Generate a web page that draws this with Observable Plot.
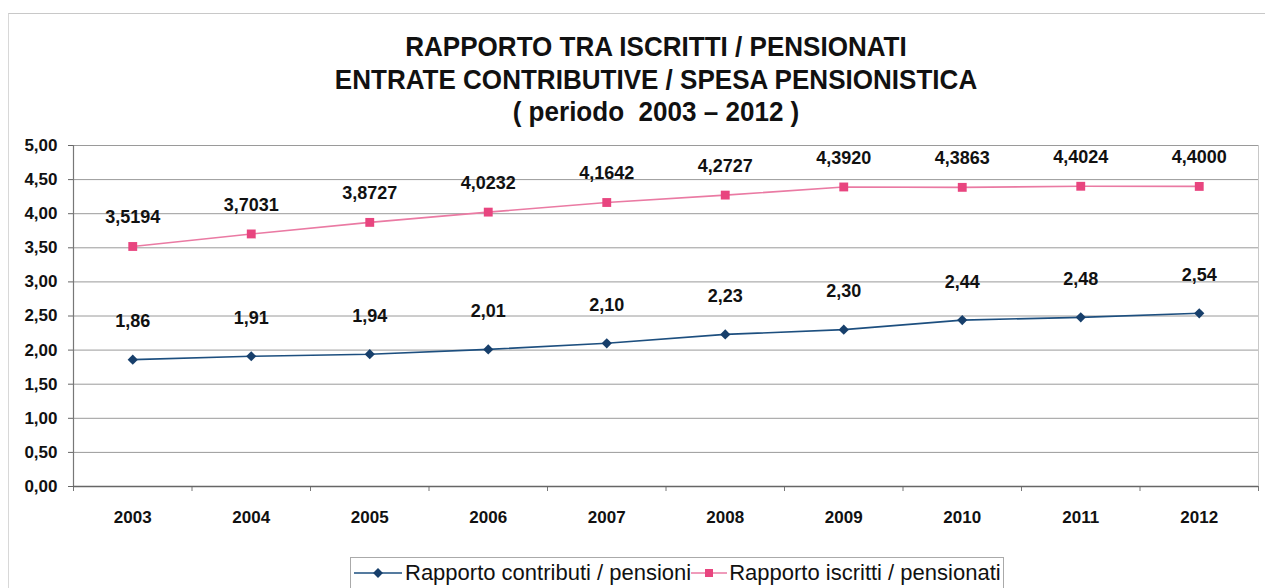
<!DOCTYPE html>
<html><head><meta charset="utf-8">
<script src="https://cdn.jsdelivr.net/npm/d3@7"></script>
<script src="https://cdn.jsdelivr.net/npm/@observablehq/plot@0.6"></script>
<style>
body{margin:0;background:#fff;}
#wrap{position:relative;width:1265px;height:588px;overflow:hidden;font-family:"Liberation Sans",Arial,sans-serif;background:#fff;}
#frame{position:absolute;left:8px;top:13px;width:1300px;height:620px;border-top:1px solid #c8c8c8;border-left:1px solid #d8d8d8;}
#title{position:absolute;left:156px;width:1000px;top:31px;text-align:center;font-family:"Liberation Sans",Arial,sans-serif;font-weight:bold;font-size:28px;line-height:32.5px;color:#111;transform:scaleX(0.93);transform-origin:500px 0;}
#chart{position:absolute;left:0;top:130px;}
#legend{position:absolute;left:350px;top:557px;width:654px;height:50px;border:1px solid #aaa;box-sizing:border-box;}
#legend .row{position:absolute;left:3px;top:2px;display:flex;align-items:center;font-size:22px;color:#111;white-space:nowrap;}
#legend svg{display:block;}
</style></head>
<body>
<div id="wrap">
  <div id="frame"></div>
  <div id="title">RAPPORTO TRA ISCRITTI / PENSIONATI<br>ENTRATE CONTRIBUTIVE / SPESA PENSIONISTICA<br>( periodo&nbsp; 2003 – 2012 )</div>
  <div id="chart"></div>
  <div id="legend"><div class="row" id="legrow"></div></div>
</div>
<script>
const years = [2003, 2004, 2005, 2006, 2007, 2008, 2009, 2010, 2011, 2012];
const contributiPensioni = [1.86, 1.91, 1.94, 2.01, 2.10, 2.23, 2.30, 2.44, 2.48, 2.54];
const iscrittiPensionati = [3.5194, 3.7031, 3.8727, 4.0232, 4.1642, 4.2727, 4.3920, 4.3863, 4.4024, 4.4000];
const yTicks = [0, 0.5, 1, 1.5, 2, 2.5, 3, 3.5, 4, 4.5, 5];
const seriesNames = ["Rapporto contributi / pensioni", "Rapporto iscritti / pensionati"];

const blue = "#1d4f7f", blueMark = "#173f6b";
const pink = "#e8457f", pinkLine = "#ea7aa3";

const blueData = years.map((y, i) => ({year: y, v: contributiPensioni[i]}));
const pinkData = years.map((y, i) => ({year: y, v: iscrittiPensionati[i]}));
const boundaries = [years[0] - 0.5, ...years.map(y => y + 0.5)];
const comma = (d, n) => d.toFixed(n).replace(".", ",");

const chart = Plot.plot({
  width: 1265,
  height: 410,
  marginLeft: 73,
  marginRight: 7,
  marginTop: 15,
  marginBottom: 54,
  style: {fontFamily: '"Liberation Sans", Arial, sans-serif', background: "transparent", overflow: "visible"},
  x: {type: "linear", domain: [years[0] - 0.5, years[years.length - 1] + 0.5], label: null},
  y: {domain: [0, 5], label: null},
  marks: [
    Plot.ruleY(yTicks.filter(d => d > 0), {stroke: "#9a9a9a", strokeWidth: 1}),
    Plot.ruleX([boundaries[boundaries.length - 1]], {stroke: "#c8c8c8", strokeWidth: 1}),
    Plot.axisY({ticks: yTicks, tickSize: 5, tickPadding: 11, tickFormat: d => comma(d, 2), label: null,
      fontSize: 17, fontWeight: "bold", stroke: "#666", fill: "#111"}),
    Plot.axisX({ticks: boundaries, tickSize: 5, tickFormat: () => "", label: null, stroke: "#777"}),
    Plot.axisX({ticks: years, tickSize: 0, tickPadding: 24, tickFormat: d => String(d), label: null,
      fontSize: 17, fontWeight: "bold", fill: "#111"}),
    Plot.ruleX([boundaries[0]], {stroke: "#777", strokeWidth: 1.2}),
    Plot.ruleY([0], {stroke: "#666", strokeWidth: 1.5}),
    Plot.line(pinkData, {x: "year", y: "v", stroke: pinkLine, strokeWidth: 1.6}),
    Plot.line(blueData, {x: "year", y: "v", stroke: blue, strokeWidth: 1.6}),
    Plot.dot(pinkData, {x: "year", y: "v", symbol: "square", r: 5, fill: pink, stroke: "none"}),
    Plot.dot(blueData, {x: "year", y: "v", symbol: "diamond2", r: 4.6, fill: blueMark, stroke: "none"}),
    Plot.text(pinkData, {x: "year", y: "v", text: d => comma(d.v, 4), dy: -29, fontSize: 18, fontWeight: "bold", fill: "#111"}),
    Plot.text(blueData, {x: "year", y: "v", text: d => comma(d.v, 2), dy: -38, fontSize: 18, fontWeight: "bold", fill: "#111"})
  ]
});
document.getElementById("chart").appendChild(chart);

// legend
const row = document.getElementById("legrow");
function swatch(w, color, lineColor, kind) {
  const svg = d3.create("svg").attr("width", w).attr("height", 24);
  svg.append("line").attr("x1", 0).attr("x2", w).attr("y1", 12).attr("y2", 12).attr("stroke", lineColor).attr("stroke-width", 1.6);
  if (kind === "square") {
    svg.append("rect").attr("x", w / 2 - 4).attr("y", 8).attr("width", 8).attr("height", 8).attr("fill", color);
  } else {
    svg.append("path").attr("transform", `translate(${w / 2},12) rotate(45)`)
      .attr("d", "M-3.5,-3.5H3.5V3.5H-3.5Z").attr("fill", color);
  }
  return svg.node();
}
row.appendChild(swatch(48, blueMark, blue, "diamond"));
const t1 = document.createElement("span"); t1.textContent = seriesNames[0]; t1.style.marginLeft = "3px"; row.appendChild(t1);
row.appendChild(swatch(36, pink, pinkLine, "square"));
const t2 = document.createElement("span"); t2.textContent = seriesNames[1]; t2.style.marginLeft = "2px"; row.appendChild(t2);
</script>
</body></html>
